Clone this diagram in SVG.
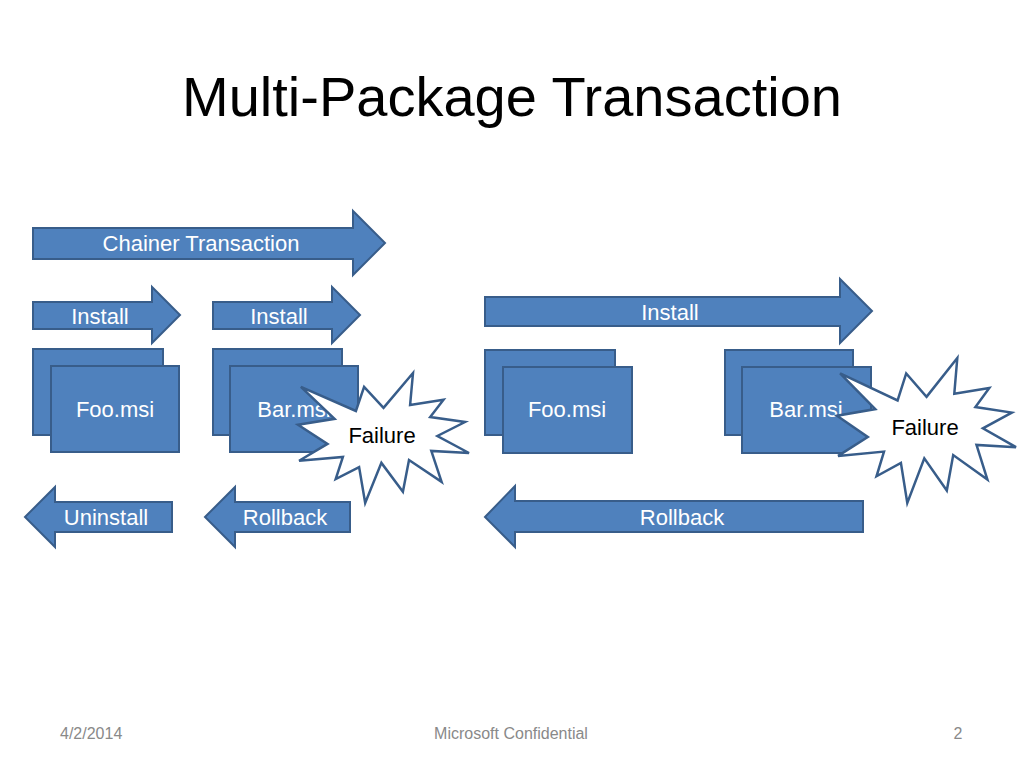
<svg xmlns="http://www.w3.org/2000/svg" width="1024" height="768" viewBox="0 0 1024 768">
<style>
.shp{fill:#4F81BD;stroke:#385D8A;stroke-width:2;stroke-linejoin:miter}
.burst{fill:#FFFFFF;stroke:#385D8A;stroke-width:2.5;stroke-linejoin:miter}
.lbl{font-family:"Liberation Sans",Arial,sans-serif;font-size:22px;fill:#FFFFFF;text-anchor:middle}
.blk{font-family:"Liberation Sans",Arial,sans-serif;font-size:22px;fill:#000000;text-anchor:middle}
.title{font-family:"Liberation Sans",Arial,sans-serif;font-size:56px;fill:#000000;text-anchor:middle}
.foot{font-family:"Liberation Sans",Arial,sans-serif;font-size:16px;fill:#898989}
</style>
<rect width="1024" height="768" fill="#FFFFFF"/>
<text class="title" x="512" y="116">Multi-Package Transaction</text>

<g id="chainer">
<polygon class="shp" points="33,228 353,228 353,211 385,243 353,275 353,259 33,259"/>
<text class="lbl" x="201" y="251">Chainer Transaction</text>
</g>
<g id="install1">
<polygon class="shp" points="33,302 152,302 152,287 180,315 152,343 152,329 33,329"/>
<text class="lbl" x="100" y="324">Install</text>
</g>
<g id="install2">
<polygon class="shp" points="213,302 332,302 332,287 360,315 332,343 332,329 213,329"/>
<text class="lbl" x="279" y="324">Install</text>
</g>
<g id="install3">
<polygon class="shp" points="485,297 840,297 840,279 872,311 840,343 840,326 485,326"/>
<text class="lbl" x="670" y="320">Install</text>
</g>

<g id="foo1">
<rect class="shp" x="33" y="349" width="130" height="86"/>
<rect class="shp" x="51" y="366" width="128" height="86"/>
<text class="lbl" x="115" y="417">Foo.msi</text>
</g>
<g id="bar1">
<rect class="shp" x="213" y="349" width="129" height="86"/>
<rect class="shp" x="230" y="366" width="128" height="86"/>
<text class="lbl" x="294" y="417">Bar.msi</text>
</g>
<g id="foo2">
<rect class="shp" x="485" y="350" width="130" height="85"/>
<rect class="shp" x="503" y="367" width="129" height="86"/>
<text class="lbl" x="567" y="417">Foo.msi</text>
</g>
<g id="bar2">
<rect class="shp" x="725" y="350" width="128" height="85"/>
<rect class="shp" x="742" y="367" width="129" height="86"/>
<text class="lbl" x="806" y="417">Bar.msi</text>
</g>

<g id="failure1">
<polygon class="burst" points="383.5,407.9 413,373 410.1,405 443.5,399.8 430.2,417 465,422 437.4,436 469,453 431.3,450.9 441.6,481.9 409,460 402.9,491.8 381.4,462.9 365.2,503 359.1,467.1 335.7,479 342.9,456.9 299.1,460.8 327.5,443.9 298,424.8 334.6,418.8 300.9,386.8 355.9,411 364.1,386.8"/>
<text class="blk" x="382" y="443">Failure</text>
</g>
<g id="failure2">
<polygon class="burst" points="926.5,396.9 957.3,358 954.3,393.7 989.3,387.9 975.4,407.1 1011.8,412.6 982.9,428.3 1016,447.2 976.5,444.9 987.4,479.5 953.2,455.1 946.8,490.5 924.3,458.3 907.3,503 900.9,462.9 876.5,476.3 884,451.6 838.1,455.9 867.8,437 837,415.8 875.3,409.1 840.1,373.4 897.6,400.4 906.2,373.4"/>
<text class="blk" x="925" y="435">Failure</text>
</g>

<g id="uninstall">
<polygon class="shp" points="25,517 55,487 55,502 172,502 172,532 55,532 55,547"/>
<text class="lbl" x="106" y="525">Uninstall</text>
</g>
<g id="rollback1">
<polygon class="shp" points="205,517 235,487 235,502 350,502 350,532 235,532 235,547"/>
<text class="lbl" x="285" y="525">Rollback</text>
</g>
<g id="rollback2">
<polygon class="shp" points="485,517 515,486 515,501 863,501 863,532 515,532 515,547"/>
<text class="lbl" x="682" y="525">Rollback</text>
</g>

<g id="connectors"></g>

<text class="foot" x="60" y="739">4/2/2014</text>
<text class="foot" x="511" y="739" text-anchor="middle">Microsoft Confidential</text>
<text class="foot" x="958" y="739" text-anchor="middle">2</text>
</svg>
